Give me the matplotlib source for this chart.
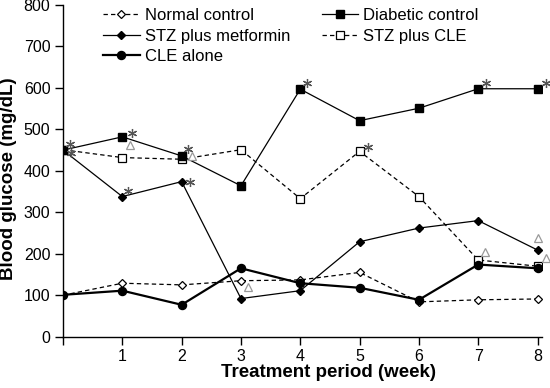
import matplotlib
matplotlib.use("Agg")
import matplotlib.pyplot as plt

plt.rcParams['font.family'] = ['Liberation Sans', 'DejaVu Sans']

weeks = [0, 1, 2, 3, 4, 5, 6, 7, 8]
normal_control = [100, 129, 125, 135, 137, 155, 84, 89, 91]
diabetic_control = [450, 482, 436, 364, 597, 521, 551, 598, 598]
stz_metformin = [450, 338, 374, 92, 111, 229, 262, 280, 209]
stz_cle = [451, 432, 428, 451, 333, 447, 338, 185, 170]
cle_alone = [101, 111, 77, 165, 129, 118, 89, 174, 165]

# significance marks (week position, glucose value)
star_weeks = [0.12, 0.14, 1.16, 1.10, 2.10, 2.14, 4.12, 5.15, 7.13, 8.15]
star_vals = [464, 443, 492, 352, 453, 374, 611, 458, 612, 612]
tri_weeks = [1.13, 2.18, 3.12, 7.12, 8.01, 8.14]
tri_vals = [462, 437, 121, 205, 237, 189]

xticks = [0, 1, 2, 3, 4, 5, 6, 7, 8]
xticklabels = ['', '1', '2', '3', '4', '5', '6', '7', '8']
yticks = [0, 100, 200, 300, 400, 500, 600, 700, 800]

fig = plt.figure(figsize=(5.5, 3.88), dpi=100)
ax = fig.add_axes([63 / 550, 1 - 336.7 / 388, (541.7 - 63) / 550, (336.7 - 5) / 388])

dash = (3.5, 2.5)
ax.plot(weeks, normal_control, color='black', lw=0.9, dashes=dash, marker='D', ms=4.5,
        mfc='white', mec='black', mew=0.9, label='Normal control', zorder=3)
ax.plot(weeks, diabetic_control, color='black', lw=0.9, marker='s', ms=5.2,
        mfc='black', mec='black', label='Diabetic control', zorder=4)
ax.plot(weeks, stz_metformin, color='black', lw=0.9, marker='D', ms=4.5,
        mfc='black', mec='black', label='STZ plus metformin', zorder=4)
ax.plot(weeks, stz_cle, color='black', lw=0.9, dashes=dash, marker='s', ms=5.2,
        mfc='white', mec='black', mew=0.9, label='STZ plus CLE', zorder=3)
ax.plot(weeks, cle_alone, color='black', lw=1.6, marker='o', ms=5.8,
        mfc='black', mec='black', label='CLE alone', zorder=5)

ax.plot(star_weeks, star_vals, ls='none', marker=(6, 2, 0), ms=6.5, mec='#555555',
        mew=0.9, zorder=6, clip_on=False)
ax.plot(tri_weeks, tri_vals, ls='none', marker='^', ms=6, mfc='white', mec='#999999',
        mew=0.9, zorder=6, clip_on=False)

ax.set_xlim(0, 8.07)
ax.set_ylim(0, 800)
ax.set_xticks(xticks)
ax.set_xticklabels(xticklabels)
ax.set_yticks(yticks)
ax.tick_params(axis='both', direction='out', length=6, width=1, labelsize=11.5, pad=3)
for s in ['top', 'right']:
    ax.spines[s].set_visible(False)
for s in ['left', 'bottom']:
    ax.spines[s].set_linewidth(1)

ax.set_xlabel('Treatment period (week)', fontsize=13.5, fontweight='bold', labelpad=2)
ax.xaxis.set_label_coords(0.554, -0.082)
ax.set_ylabel('Blood glucose (mg/dL)', fontsize=13.5, fontweight='bold', labelpad=2)
ax.yaxis.set_label_coords(-0.097, 0.475)

handles, labels = ax.get_legend_handles_labels()
order = [0, 2, 4, 1, 3]
leg = fig.legend([handles[i] for i in order], [labels[i] for i in order],
                 loc='upper left', bbox_to_anchor=(103 / 550, 1 - 8 / 388),
                 bbox_transform=fig.transFigure, ncol=2, frameon=False,
                 fontsize=12, handlelength=2.2, handletextpad=0.3,
                 columnspacing=1.9, labelspacing=0.33, borderpad=0, borderaxespad=0)

fig.savefig('out.png', dpi=100)
